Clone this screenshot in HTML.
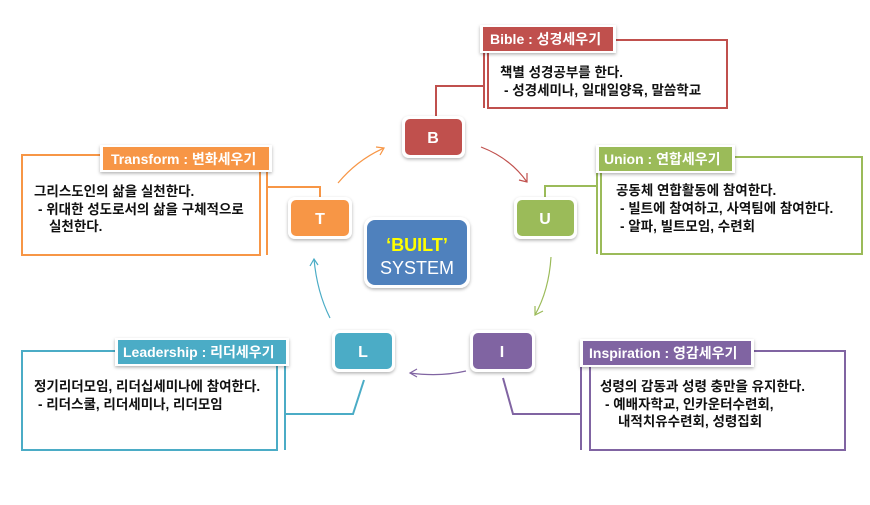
<!DOCTYPE html>
<html><head><meta charset="utf-8"><style>
body{margin:0;background:#fff;}
svg text{font-family:"Liberation Sans","Noto Sans CJK KR",sans-serif;}
.t{font-size:13.5px;fill:#111;font-weight:bold;}
.lb{font-size:14px;fill:#fff;font-weight:bold;}
.n{font-size:16px;fill:#fff;font-weight:bold;text-anchor:middle;}
</style></head><body>
<svg width="870" height="500" viewBox="0 0 870 500" xmlns="http://www.w3.org/2000/svg">
<defs>
<filter id="sh" x="-20%" y="-20%" width="140%" height="150%"><feDropShadow dx="0" dy="1.5" stdDeviation="1.5" flood-color="#000" flood-opacity="0.3"/></filter>
</defs>
<!-- Bible -->
<g stroke="#c0504d" stroke-width="2" fill="none">
<polyline points="614,40 727,40 727,108 488,108 488,52"/>
<line x1="484" y1="52" x2="484" y2="108"/>
<polyline points="484,86 436,86 436,118"/>
</g>
<rect x="480" y="25" width="136" height="28" fill="#fff" filter="url(#sh)"/>
<rect x="483" y="27" width="130" height="24" fill="#c0504d"/>
<text class="lb" x="490" y="44">Bible : 성경세우기</text>
<text class="t" x="500" y="77">책별 성경공부를 한다.</text>
<text class="t" x="504" y="95">- 성경세미나, 일대일양육, 말씀학교</text>
<!-- Union -->
<g stroke="#9bbb59" stroke-width="2" fill="none">
<polyline points="733,157 862,157 862,254 601,254 601,171"/>
<line x1="597" y1="171" x2="597" y2="254"/>
<polyline points="597,186 545,186 545,200"/>
</g>
<rect x="596" y="145" width="139" height="28" fill="#fff" filter="url(#sh)"/>
<rect x="599" y="147" width="133" height="24" fill="#9bbb59"/>
<text class="lb" x="604" y="164">Union : 연합세우기</text>
<text class="t" x="616" y="195">공동체 연합활동에 참여한다.</text>
<text class="t" x="620" y="213">- 빌트에 참여하고, 사역팀에 참여한다.</text>
<text class="t" x="620" y="231">- 알파, 빌트모임, 수련회</text>
<!-- Transform -->
<g stroke="#f79646" stroke-width="2" fill="none">
<polyline points="102,155 22,155 22,255 260,255 260,170"/>
<line x1="267" y1="170" x2="267" y2="255"/>
<polyline points="267,187 320,187 320,200"/>
</g>
<rect x="100" y="145" width="172" height="27" fill="#fff" filter="url(#sh)"/>
<rect x="103" y="147" width="166" height="23" fill="#f79646"/>
<text class="lb" x="111" y="164">Transform : 변화세우기</text>
<text class="t" x="34" y="196">그리스도인의 삶을 실천한다.</text>
<text class="t" x="38" y="214">- 위대한 성도로서의 삶을 구체적으로</text>
<text class="t" x="49" y="231">실천한다.</text>
<!-- Leadership -->
<g stroke="#4bacc6" stroke-width="2" fill="none">
<polyline points="117,351 22,351 22,450 277,450 277,364"/>
<line x1="285" y1="364" x2="285" y2="450"/>
<polyline points="285,414 353,414 364,380"/>
</g>
<rect x="115" y="338" width="174" height="28" fill="#fff" filter="url(#sh)"/>
<rect x="118" y="340" width="168" height="24" fill="#4bacc6"/>
<text class="lb" x="123" y="357">Leadership : 리더세우기</text>
<text class="t" x="34" y="391">정기리더모임, 리더십세미나에 참여한다.</text>
<text class="t" x="38" y="409">- 리더스쿨, 리더세미나, 리더모임</text>
<!-- Inspiration -->
<g stroke="#8064a2" stroke-width="2" fill="none">
<polyline points="752,351 845,351 845,450 590,450 590,365"/>
<line x1="581" y1="365" x2="581" y2="450"/>
<polyline points="581,414 513,414 503,378"/>
</g>
<rect x="580" y="339" width="174" height="28" fill="#fff" filter="url(#sh)"/>
<rect x="583" y="341" width="168" height="24" fill="#8064a2"/>
<text class="lb" x="589" y="358">Inspiration : 영감세우기</text>
<text class="t" x="600" y="391">성령의 감동과 성령 충만을 유지한다.</text>
<text class="t" x="605" y="409">- 예배자학교, 인카운터수련회,</text>
<text class="t" x="618" y="426">내적치유수련회, 성령집회</text>
<!-- arrows -->
<g fill="none" stroke-width="1.2">
<path d="M481,147 Q510,158 527,182" stroke="#c0504d"/>
<polyline points="519,180 527,182 527,173" stroke="#c0504d"/>
<path d="M551,257 Q549,290 535,315" stroke="#9bbb59"/>
<polyline points="535,306 535,315 543,311" stroke="#9bbb59"/>
<path d="M466,371 Q440,377 410,373" stroke="#8064a2"/>
<polyline points="417,369 410,373 417,377" stroke="#8064a2"/>
<path d="M330,318 Q317,292 314,259" stroke="#4bacc6"/>
<polyline points="310,266 314,259 318,265" stroke="#4bacc6"/>
<path d="M338,183 Q357,160 384,148" stroke="#f79646"/>
<polyline points="376,147 384,148 380,155" stroke="#f79646"/>
</g>
<!-- nodes -->
<g filter="url(#sh)">
<rect x="402" y="116" width="63" height="42" rx="7" fill="#fff"/>
<rect x="514" y="197" width="63" height="42" rx="7" fill="#fff"/>
<rect x="470" y="330" width="65" height="42" rx="7" fill="#fff"/>
<rect x="332" y="330" width="63" height="42" rx="7" fill="#fff"/>
<rect x="288" y="197" width="64" height="42" rx="7" fill="#fff"/>
<rect x="364" y="217" width="106" height="71" rx="10" fill="#fff"/>
</g>
<rect x="405" y="119" width="57" height="36" rx="5" fill="#c0504d"/>
<rect x="517" y="200" width="57" height="36" rx="5" fill="#9bbb59"/>
<rect x="473" y="333" width="59" height="36" rx="5" fill="#8064a2"/>
<rect x="335" y="333" width="57" height="36" rx="5" fill="#4bacc6"/>
<rect x="291" y="200" width="58" height="36" rx="5" fill="#f79646"/>
<rect x="367" y="220" width="100" height="65" rx="8" fill="#4f81bd"/>
<text class="n" x="433" y="143">B</text>
<text class="n" x="545" y="224">U</text>
<text class="n" x="502" y="357">I</text>
<text class="n" x="363" y="357">L</text>
<text class="n" x="320" y="224">T</text>
<text x="417" y="251" text-anchor="middle" style="font-size:18px;font-weight:bold;fill:#ffff00">‘BUILT’</text>
<text x="417" y="274" text-anchor="middle" style="font-size:18px;fill:#fff">SYSTEM</text>
</svg>
</body></html>
